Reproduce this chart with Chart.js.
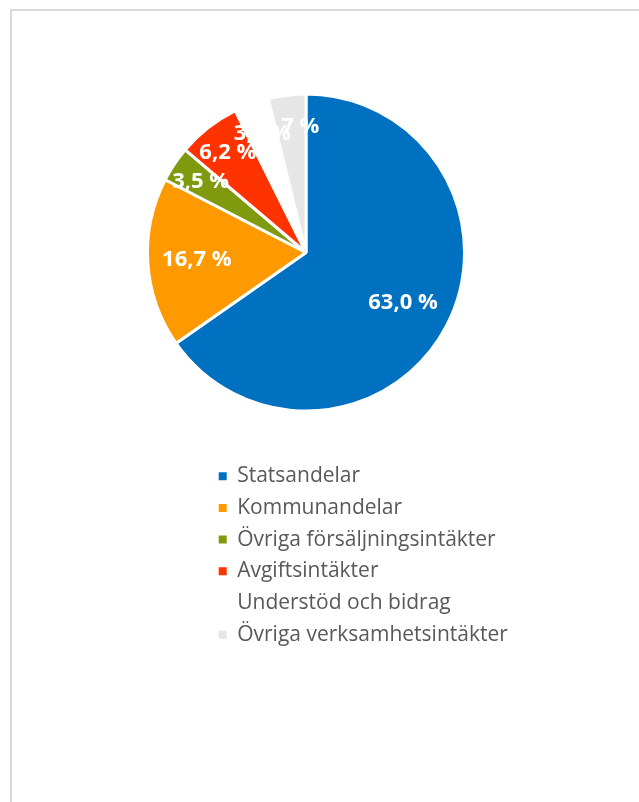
<!DOCTYPE html>
<html>
<head>
<meta charset="utf-8">
<script src="https://cdn.jsdelivr.net/npm/chart.js@4/dist/chart.umd.min.js"></script>
<style>
  html, body { margin: 0; padding: 0; background: #ffffff; }
  #frame {
    position: absolute; left: 10px; top: 9px; width: 700px; height: 900px;
    border-left: 2px solid #d9d9d9; border-top: 2px solid #d9d9d9;
  }
  #chart { position: absolute; left: 0; top: 0; }
</style>
</head>
<body>
<div id="frame"></div>
<canvas id="chart" width="639" height="802"></canvas>
<script>
const categories = [
    'Statsandelar',
    'Kommunandelar',
    'Övriga försäljningsintäkter',
    'Avgiftsintäkter',
    'Understöd och bidrag',
    'Övriga verksamhetsintäkter'
];
const shares = [63.0, 16.7, 3.5, 6.2, 3.4, 3.7];
const sliceColors = ['#0070c0', '#ff9900', '#7f9a0e', '#ff3300', '#ffffff', '#e6e6e6'];


function formatShare(value) {
    return value.toFixed(1).replace('.', ',') + ' %';
}

// white % labels inside the slices, small slices get pushed out towards the rim
const sliceLabels = {
    id: 'sliceLabels',
    afterDatasetsDraw(chart) {
        const ctx = chart.ctx;
        const meta = chart.getDatasetMeta(0);
        ctx.save();
        ctx.font = 'bold 22px "Open Sans"';
        ctx.fillStyle = '#ffffff';
        ctx.textAlign = 'center';
        ctx.textBaseline = 'middle';
        meta.data.forEach((arc, i) => {
            const { x, y, startAngle, endAngle, outerRadius } =
                arc.getProps(['x', 'y', 'startAngle', 'endAngle', 'outerRadius'], true);
            const mid = (startAngle + endAngle) / 2;
            const part = (endAngle - startAngle) / (2 * Math.PI);
            const r = outerRadius * (part < 0.1 ? 0.8 : 0.69);
            ctx.fillText(formatShare(shares[i]), x + Math.cos(mid) * r, y + Math.sin(mid) * r);
        });
        ctx.restore();
    }
};

// legend is a single column under the pie instead of beside it
const legendUnderPie = {
    id: 'legendUnderPie',
    afterLayout(chart) {
        const legend = chart.legend;
        const area = chart.chartArea;
        const centerX = (area.left + area.right) / 2;
        legend.left = centerX - 98;
        legend.right = legend.left + legend.width;
        legend.top = area.bottom + 42;
        legend.bottom = legend.top + legend.height;
    }
};

const ctx = document.getElementById('chart').getContext('2d');

const chart = new Chart(ctx, {
    type: 'pie',
    data: {
        labels: categories,
        datasets: [{
            data: shares,
            backgroundColor: sliceColors,
            borderColor: '#ffffff',
            borderWidth: 3
        }]
    },
    options: {
        responsive: false,
        animation: false,
        events: [],
        layout: {
            padding: { left: 146, right: 173, top: 92, bottom: 389 }
        },
        plugins: {
            tooltip: { enabled: false },
            legend: {
                position: 'chartArea',
                align: 'start',
                labels: {
                    boxWidth: 8,
                    boxHeight: 8,
                    padding: 10.7,
                    color: '#595959',
                    font: { family: 'Open Sans', size: 21 },
                    generateLabels(chart) {
                        const items = Chart.overrides.pie.plugins.legend.labels.generateLabels(chart);
                        items.forEach(item => { item.lineWidth = 0; });
                        return items;
                    }
                }
            }
        }
    },
    plugins: [sliceLabels, legendUnderPie]
});
</script>
</body>
</html>
